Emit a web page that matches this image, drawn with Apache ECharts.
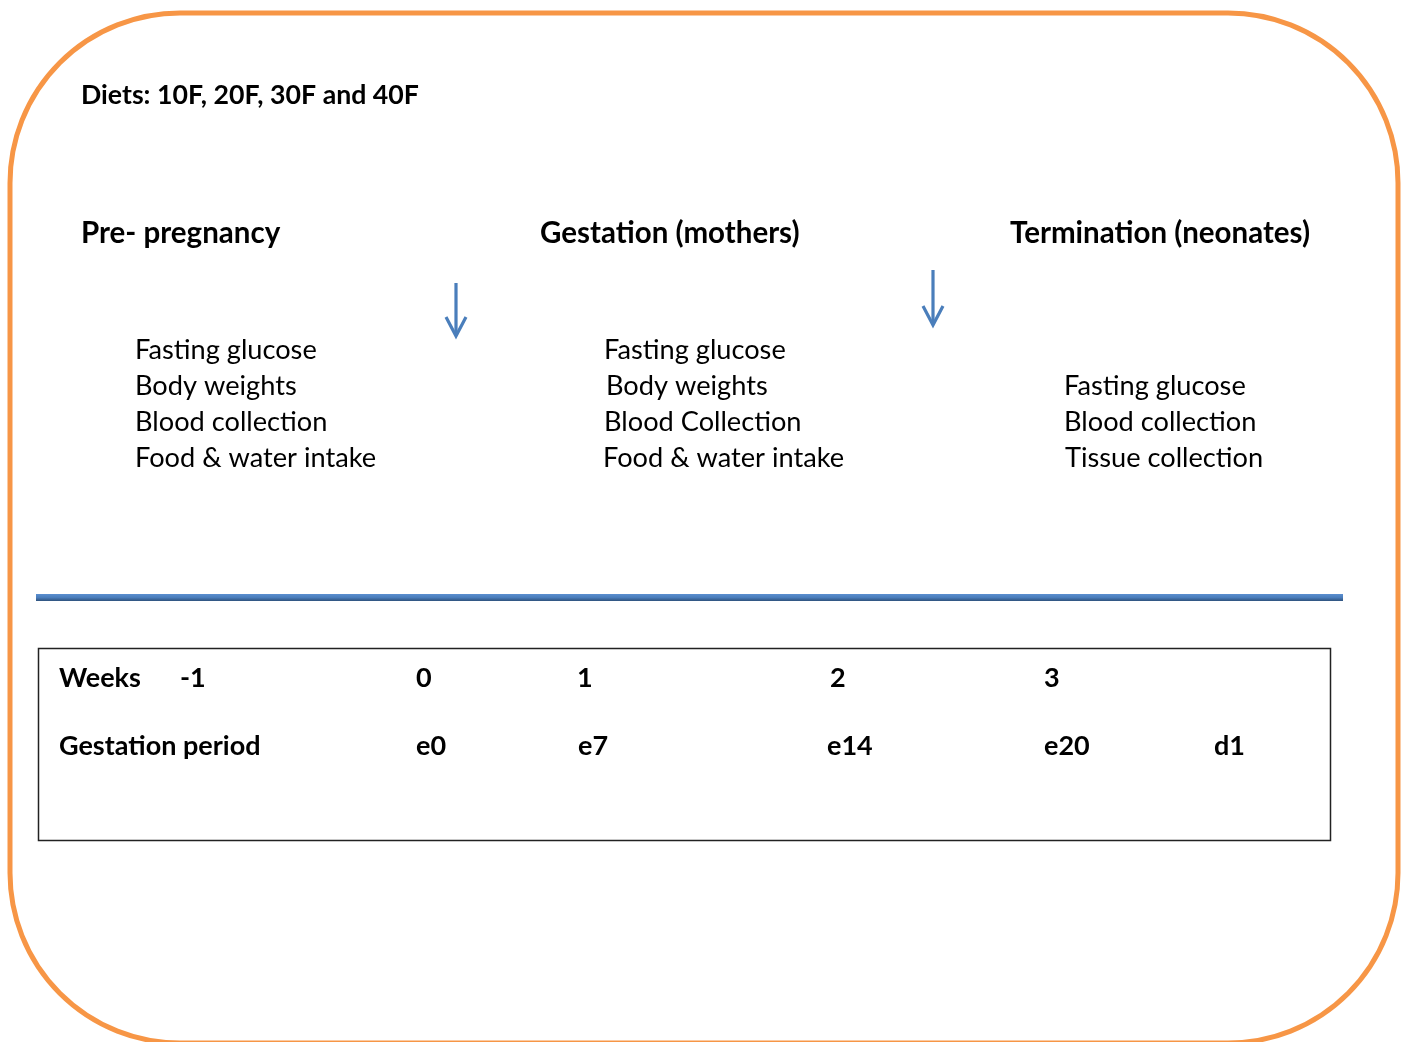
<!DOCTYPE html>
<html>
<head>
<meta charset="utf-8">
<script src="https://cdn.jsdelivr.net/npm/echarts@6/dist/echarts.min.js"></script>
<style>
  html, body { margin: 0; padding: 0; background: #fff; }
  #Chart { width: 1410px; height: 1042px; }
</style>
</head>
<body>
<div id="Chart"></div>
<script>
// texts of the diagram
var dietTitle = "Diets: 10F, 20F, 30F and 40F";
var phases = ["Pre- pregnancy", "Gestation (mothers)", "Termination (neonates)"];
var preMeasures = ["Fasting glucose", "Body weights", "Blood collection", "Food & water intake"];
var gestMeasures = ["Fasting glucose", "Body weights", "Blood Collection", "Food & water intake"];
var termMeasures = ["Fasting glucose", "Blood collection", "Tissue collection"];
var rowNames = ["Weeks", "Gestation period"];
var weekLabels = ["-1", "0", "1", "2", "3"];
var gestLabels = ["e0", "e7", "e14", "e20", "d1"];

// placement on the page (px of a 1410x1042 canvas)
var phaseX = [81, 540, 1010];
var measureX = [[135, 135, 135, 135], [604, 606, 604, 603], [1064, 1064, 1065]];
var measureTopY = [350, 350, 386];
var measureStep = 36;
var weekX = [180, 416, 577, 830, 1044];
var gestX = [416, 578, 827, 1044, 1214];
var rowY = [678, 746];
var arrowX = [456, 933];
var arrowTop = [283, 270];
var arrowBottom = [336, 325];

var FONT = "Lato, 'Open Sans', sans-serif";
var textItems = [];
function addText(t, x, y, size, bold) {
    textItems.push({ t: t, x: x, y: y, size: size, bold: bold });
}
addText(dietTitle, 81, 95, 26.7, true);
for (var i = 0; i < phases.length; i++) {
    addText(phases[i], phaseX[i], 233, 29.5, true);
}
[preMeasures, gestMeasures, termMeasures].forEach(function (list, c) {
    list.forEach(function (m, j) {
        addText(m, measureX[c][j], measureTopY[c] + j * measureStep, 27.2, false);
    });
});
addText(rowNames[0], 59, rowY[0], 27, true);
addText(rowNames[1], 59, rowY[1], 27, true);
weekLabels.forEach(function (w, j) { addText(w, weekX[j], rowY[0], 27, true); });
gestLabels.forEach(function (g, j) { addText(g, gestX[j], rowY[1], 27, true); });

var myChart = echarts.init(document.getElementById("Chart"));
var option = {
    backgroundColor: "#fff",
    animation: false,
    grid: { left: 0, right: 0, top: 0, bottom: 0 },
    xAxis: { type: "value", min: 0, max: 1410, show: false },
    yAxis: { type: "value", min: 0, max: 1042, inverse: true, show: false },
    graphic: [
        {
            type: "rect",
            shape: { x: 10, y: 13, width: 1388, height: 1030, r: 170 },
            style: { fill: "none", stroke: "#F79646", lineWidth: 5 },
            z: 1
        },
        {
            type: "rect",
            shape: { x: 36, y: 594, width: 1307, height: 7 },
            style: {
                fill: new echarts.graphic.LinearGradient(0, 0, 0, 1, [
                    { offset: 0, color: "#5B8FD0" },
                    { offset: 0.5, color: "#4A7DBB" },
                    { offset: 1, color: "#2F527D" }
                ])
            },
            z: 1
        },
        {
            type: "rect",
            shape: { x: 38.5, y: 648.5, width: 1292, height: 192 },
            style: { fill: "none", stroke: "#222", lineWidth: 1.5 },
            z: 1
        }
    ],
    series: [
        {
            type: "custom",
            coordinateSystem: "cartesian2d",
            data: arrowX.map(function (x, i) { return [x, arrowTop[i], arrowBottom[i]]; }),
            renderItem: function (params, api) {
                var top = api.coord([api.value(0), api.value(1)]);
                var bot = api.coord([api.value(0), api.value(2)]);
                var st = { stroke: "#4A7EBB", lineWidth: 3.2, fill: "none", lineJoin: "miter" };
                return {
                    type: "group",
                    children: [
                        { type: "line", shape: { x1: top[0], y1: top[1], x2: bot[0], y2: bot[1] - 2 }, style: st },
                        { type: "polyline", shape: { points: [[bot[0] - 10, bot[1] - 19], [bot[0], bot[1]], [bot[0] + 10, bot[1] - 19]] }, style: st }
                    ]
                };
            },
            z: 3
        },
        {
            type: "custom",
            coordinateSystem: "cartesian2d",
            data: textItems.map(function (d) { return [d.x, d.y]; }),
            renderItem: function (params, api) {
                var d = textItems[params.dataIndex];
                var p = api.coord([api.value(0), api.value(1)]);
                return {
                    type: "text",
                    x: p[0],
                    y: p[1],
                    style: {
                        text: d.t,
                        fill: "#000",
                        fontFamily: FONT,
                        fontSize: d.size,
                        fontWeight: d.bold ? "bold" : "normal",
                        align: "left",
                        verticalAlign: "middle"
                    }
                };
            },
            z: 4
        }
    ]
};
myChart.setOption(option);
window.addEventListener("resize", function () {
    myChart.resize();
});
</script>
</body>
</html>
